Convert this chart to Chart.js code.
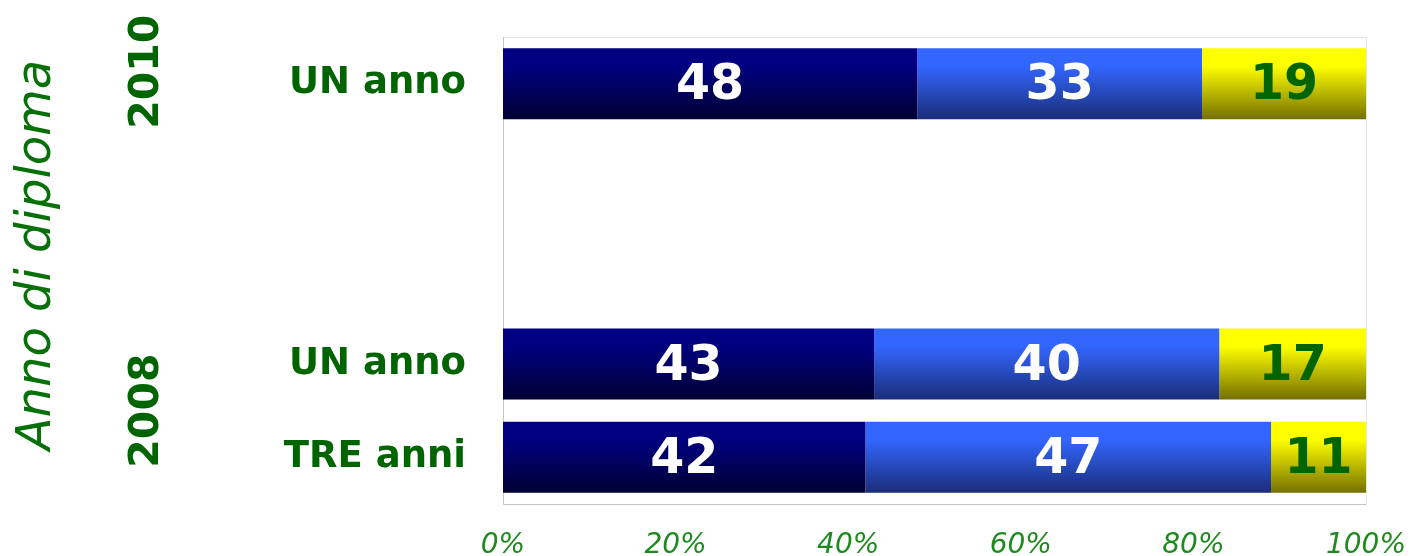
<!DOCTYPE html>
<html>
<head>
<meta charset="utf-8">
<script src="https://cdn.jsdelivr.net/npm/chart.js@4/dist/chart.umd.min.js"></script>
<style>
  html, body { margin: 0; padding: 0; background: #fff; }
  #wrap { width: 1414px; height: 556px; position: relative; }
</style>
</head>
<body>
<div id="wrap"><canvas id="chart"></canvas></div>
<script>
// rows from top to bottom (two empty rows between the years)
const rowLabels = ['UN anno', '', '', 'UN anno', 'TRE anni'];
const groupLabels = ['2010', '2008'];
const groupRows = [[0], [3, 4]];
const axisTitle = 'Anno di diploma';

const serie1 = [48, null, null, 43, 42];
const serie2 = [33, null, null, 40, 47];
const serie3 = [19, null, null, 17, 11];

const xTicks = [0, 20, 40, 60, 80, 100];

const green = '#006400';
const font = '"DejaVu Sans", Verdana, sans-serif';
const barPct = 0.76;

function gradient(top, bottom) {
  return (c) => {
    const chart = c.chart;
    const y = chart.scales.y;
    if (!y || c.dataIndex === undefined) return top;
    const center = y.getPixelForValue(c.dataIndex);
    const h = (y.height / rowLabels.length) * barPct;
    if (!isFinite(center) || !isFinite(h) || h <= 0) return top;
    const g = chart.ctx.createLinearGradient(0, center - h / 2, 0, center + h / 2);
    g.addColorStop(0, top);
    g.addColorStop(0.25, top);
    g.addColorStop(1, bottom);
    return g;
  };
}

// frame, group labels and axis title
const extras = {
  id: 'extras',
  beforeDatasetsDraw(chart) {
    const { ctx, chartArea: a } = chart;
    ctx.save();
    ctx.lineWidth = 1;
    ctx.strokeStyle = '#e4e4e4';
    ctx.beginPath();
    ctx.moveTo(a.left, a.top + 0.5); ctx.lineTo(a.right + 0.5, a.top + 0.5);
    ctx.lineTo(a.right + 0.5, a.bottom);
    ctx.stroke();
    ctx.strokeStyle = '#c4c4c4';
    ctx.beginPath();
    ctx.moveTo(a.left + 0.5, a.top); ctx.lineTo(a.left + 0.5, a.bottom + 0.5);
    ctx.lineTo(a.right + 0.5, a.bottom + 0.5);
    ctx.stroke();
    ctx.restore();
  },
  afterDraw(chart) {
    const { ctx } = chart;
    const y = chart.scales.y;
    ctx.save();
    ctx.fillStyle = green;
    ctx.textAlign = 'center';
    ctx.textBaseline = 'middle';
    ctx.font = 'bold 41px ' + font;
    groupLabels.forEach((lab, i) => {
      const rows = groupRows[i];
      const cy = (y.getPixelForValue(rows[0]) + y.getPixelForValue(rows[rows.length - 1])) / 2;
      ctx.save();
      ctx.translate(147, cy - (rows.length === 1 ? 12 : 0));
      ctx.rotate(-Math.PI / 2);
      ctx.fillText(lab, 0, 0);
      ctx.restore();
    });
    ctx.font = 'italic 48px ' + font;
    ctx.fillStyle = '#087008';
    ctx.translate(38, 255);
    ctx.rotate(-Math.PI / 2);
    ctx.fillText(axisTitle, 0, 0);
    ctx.restore();
  }
};

// value labels inside the segments
const valueLabels = {
  id: 'valueLabels',
  afterDatasetsDraw(chart) {
    const { ctx } = chart;
    ctx.save();
    ctx.font = 'bold 49px ' + font;
    ctx.textAlign = 'center';
    ctx.textBaseline = 'middle';
    chart.data.datasets.forEach((ds, di) => {
      chart.getDatasetMeta(di).data.forEach((bar, i) => {
        const v = ds.data[i];
        if (v == null) return;
        ctx.fillStyle = di === 2 ? green : '#ffffff';
        ctx.fillText(String(v), (bar.base + bar.x) / 2, bar.y + 3);
      });
    });
    ctx.restore();
  }
};

new Chart(document.getElementById('chart'), {
  type: 'bar',
  data: {
    labels: rowLabels,
    datasets: [
      { label: 'a', data: serie1, backgroundColor: gradient('#000080', '#000033') },
      { label: 'b', data: serie2, backgroundColor: gradient('#3366ff', '#1a2d78') },
      { label: 'c', data: serie3, backgroundColor: gradient('#ffff00', '#747000') }
    ]
  },
  options: {
    indexAxis: 'y',
    responsive: true,
    maintainAspectRatio: false,
    animation: false,
    categoryPercentage: barPct,
    barPercentage: 1,
    layout: { padding: { top: 37, right: 48, left: 0, bottom: 0 } },
    plugins: { legend: { display: false }, tooltip: { enabled: false } },
    scales: {
      x: {
        stacked: true,
        min: 0,
        max: 100,
        afterBuildTicks: (s) => { s.ticks = xTicks.map(v => ({ value: v })); },
        grid: { display: false, drawTicks: false },
        border: { display: false },
        ticks: {
          padding: 25,
          color: '#1e8a1e',
          font: { family: font, size: 28, style: 'italic' },
          callback: (v) => v + '%'
        },
        afterFit: (s) => {
          s.height = 52;
          s.paddingLeft = 0; s.paddingRight = 0;
        }
      },
      y: {
        stacked: true,
        grid: { display: false, drawTicks: false },
        border: { display: false },
        ticks: {
          padding: 37,
          color: green,
          font: { family: font, size: 37, weight: 'bold' }
        },
        afterFit: (s) => {
          s.width = 503;
          s.paddingTop = 0; s.paddingBottom = 0;
        }
      }
    }
  },
  plugins: [extras, valueLabels]
});
</script>
</body>
</html>
